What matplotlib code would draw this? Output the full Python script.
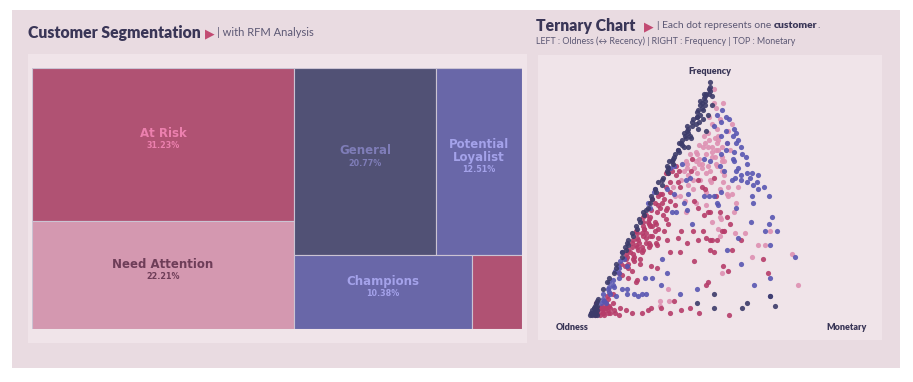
import matplotlib
matplotlib.use("Agg")
import matplotlib.pyplot as plt
from matplotlib.patches import Rectangle

# treemap data
segments = ["At Risk", "Need Attention", "General", "Potential\nLoyalist", "Champions", "Others"]
shares = [31.23, 22.21, 20.77, 12.51, 10.38, 2.90]
seg_colors = ["#B05273", "#D498B0", "#515175", "#6967A8", "#6967A8", "#B05273"]
label_colors = ["#EC80AE", "#6E3D58", "#7F7DB8", "#A4A2EA", "#A4A2EA", None]

# ternary data per segment: frequency % and monetary %, oldness = rest
general_f = [100, 98, 95, 95, 94, 93, 90, 88, 88, 85, 83, 83, 81, 79, 77, 76, 74, 72, 71, 69,
             67, 66, 64, 80, 79, 95, 92, 85, 81, 78, 74, 71, 66, 63, 59, 57, 54, 51, 46, 44,
             41, 38, 35, 32, 29, 31, 27, 22, 18, 16, 14, 11, 7, 3, 1,
             0, 1, 2, 0, 1, 2, 3, 0, 1, 2, 4, 3, 5, 4, 0, 6,
             5, 9, 3, 3, 5, 4, 8,
             97, 96, 94, 92, 91, 90, 89, 87, 86, 84, 82, 80, 78, 77, 75, 73, 70, 68, 65, 62,
             61, 58, 56, 53, 50, 48, 45, 43, 40, 37, 34, 30, 28, 25, 20, 86, 84, 90, 76, 72]
general_m = [0, 1, 0, 2, 4, 1, 1, 1, 3, 2, 1, 4, 2, 1, 3, 2, 1, 3, 1, 1,
             1, 0, 0, 5, 9, 1, 0, 2, 0, 0, 0, 1, 1, 1, 1, 0, 0, 0, 1, 0,
             0, 0, 0, 0, 0, 0, 0, 0, 1, 0, 0, 0, 0, 0, 0,
             0, 1, 0, 1, 2, 1, 1, 2, 0, 2, 0, 0, 0, 1, 3, 0,
             42, 47, 50, 62, 63, 75, 71,
             1, 2, 1, 2, 1, 3, 2, 1, 3, 1, 3, 1, 2, 1, 1, 2, 2, 1, 2, 1,
             2, 1, 2, 1, 1, 1, 1, 1, 1, 1, 1, 1, 1, 1, 1, 6, 5, 6, 4, 5]

loyal_f = [88, 84, 80, 77, 75, 72, 68, 65, 86, 81, 77, 74, 67, 66, 67, 69, 64, 62, 62, 61,
           61, 60, 59, 58, 57, 56, 57, 55, 51, 51, 53, 51, 47, 42, 39, 36, 40, 30, 25, 28,
           13, 16, 8, 63, 64, 65, 59, 58, 53, 54, 54, 52, 52, 51, 51, 48, 45, 44, 44, 48,
           58, 39, 48, 46, 27, 24, 21, 21, 16, 14, 12, 11, 9, 9, 6, 5, 8, 11, 9, 11,
           9, 8, 9, 9, 16, 16, 24, 18, 13, 9, 11,
           12, 10, 7, 13, 15, 5, 18, 19, 20, 23,
           83, 79, 70, 66, 63, 60, 71, 74, 78, 69, 85, 59, 54, 48, 46, 33, 22, 36]
loyal_m = [11, 16, 20, 21, 24, 27, 31, 33, 10, 11, 16, 20, 14, 17, 26, 20, 22, 25, 30, 35,
           37, 40, 31, 34, 37, 40, 41, 45, 42, 49, 28, 26, 30, 55, 55, 60, 47, 60, 73, 43,
           62, 67, 71, 2, 3, 6, 12, 11, 0, 0, 5, 9, 15, 22, 24, 15, 18, 14, 12, 29,
           30, 23, 0, 2, 0, 2, 1, 5, 4, 1, 4, 2, 1, 4, 3, 2, 7, 8, 11, 10,
           14, 16, 17, 19, 15, 18, 18, 23, 23, 33, 39,
           2, 3, 2, 3, 2, 4, 3, 1, 2, 1,
           13, 17, 25, 27, 30, 33, 21, 24, 22, 29, 14, 37, 43, 44, 38, 45, 52, 55]

risk_f = [42, 40, 42, 39, 38, 39, 37, 37, 35, 34, 33, 36, 36, 32, 31, 31, 32, 33, 36, 36,
          36, 31, 32, 32, 32, 52, 48, 46, 51, 46, 50, 55, 49, 46, 44, 44, 55, 58, 62, 61,
          61, 62, 42, 36, 31, 29, 28, 29, 27, 24, 22, 21, 20, 19, 16, 15, 31, 30, 27, 27,
          23, 14, 14, 5, 3, 3, 4, 5, 1, 1, 3, 1, 2, 1, 1, 2, 3, 3, 6, 2,
          3, 1, 1, 0, 0, 54, 43, 44, 32, 33, 28, 27, 28, 32, 39, 36, 24, 18, 21, 19,
          13, 0, 59, 51,
          1, 2, 1, 3, 2, 4, 1, 3, 2, 5, 1, 4, 6, 2, 3, 0, 0, 7, 8, 9,
          40, 38, 35, 33, 30, 28, 26, 25, 34, 29, 24, 22, 67, 60, 57, 55,
          48, 47, 45, 44, 43, 41, 40, 38, 37, 36, 35, 34, 33, 32, 31, 30, 29, 28, 27, 26,
          25, 24, 23, 22, 21, 20, 18, 17, 45, 41, 39, 43, 50, 52, 53, 49, 47, 57, 62, 64]
risk_m = [1, 2, 4, 5, 7, 8, 10, 4, 4, 9, 12, 13, 1, 4, 8, 12, 16, 20, 20, 25,
          29, 25, 29, 34, 37, 4, 6, 9, 3, 6, 1, 10, 19, 22, 28, 32, 19, 16, 11, 1,
          2, 3, 36, 38, 2, 5, 8, 10, 3, 6, 10, 15, 18, 8, 8, 12, 9, 13, 20, 24,
          32, 42, 12, 0, 2, 4, 5, 7, 8, 10, 11, 5, 14, 17, 21, 23, 24, 28, 32, 37,
          40, 45, 33, 12, 2, 21, 26, 27, 35, 32, 36, 38, 45, 47, 39, 37, 60, 65, 45, 48,
          42, 58, 22, 27,
          1, 2, 3, 3, 4, 3, 5, 5, 6, 4, 7, 6, 3, 9, 7, 4, 6, 4, 3, 5,
          4, 3, 6, 3, 4, 2, 5, 3, 8, 7, 9, 5, 9, 6, 5, 4,
          3, 5, 3, 6, 2, 4, 7, 6, 4, 9, 2, 5, 7, 2, 5, 10, 3, 6, 8, 2,
          6, 3, 7, 2, 4, 6, 3, 5, 9, 11, 13, 9, 6, 3, 7, 9, 12, 8, 6, 4]

need_f = [97, 91, 89, 85, 82, 77, 75, 76, 74, 73, 72, 72, 71, 72, 71, 66, 68, 69, 69, 66,
          69, 66, 79, 82, 91, 84, 71, 68, 72, 65, 61, 58, 65, 62, 58, 55, 51, 55, 55, 51,
          63, 63, 65, 64, 62, 66, 61, 58, 54, 52, 54, 48, 51, 44, 42, 35, 40, 65, 57, 57,
          52, 48, 44, 41, 37, 36, 35, 36, 30, 30, 25, 26, 13, 18, 34, 11, 4, 6, 6,
          80, 78, 75, 74, 70, 68, 67, 64, 63, 60, 58, 56, 60, 62, 74, 77, 70, 53, 49, 47]
need_m = [3, 6, 8, 7, 10, 9, 12, 14, 16, 9, 11, 15, 18, 19, 23, 22, 18, 14, 10, 11,
          7, 7, 18, 18, 10, 12, 17, 17, 13, 14, 14, 14, 8, 8, 9, 7, 10, 34, 30, 32,
          9, 12, 13, 21, 24, 23, 18, 21, 27, 31, 16, 20, 12, 18, 33, 43, 31, 20, 22, 27,
          33, 37, 38, 34, 35, 38, 47, 57, 55, 58, 55, 71, 80, 46, 37, 27, 27, 30, 26,
          13, 10, 16, 11, 16, 21, 12, 17, 15, 11, 17, 13, 26, 19, 20, 15, 9, 22, 15, 25]

dot_sets = [
    (need_f, need_m, "#DE90B2"),
    (risk_f, risk_m, "#B63C6A"),
    (loyal_f, loyal_m, "#5856B2"),
    (general_f, general_m, "#3C3B6A"),
]

W, H = 913, 382
fig = plt.figure(figsize=(W / 100, H / 100), dpi=100)
fig.patch.set_facecolor("white")

# background axes in pixel coordinates (card, panels, titles)
bg = fig.add_axes([0, 0, 1, 1])
bg.set_xlim(0, W)
bg.set_ylim(H, 0)
bg.axis("off")
bg.add_patch(Rectangle((12, 10), 888, 358, facecolor="#E9DBE1", edgecolor="none"))
bg.add_patch(Rectangle((28, 54), 499, 289, facecolor="#F0E4E9", edgecolor="none"))

dark = "#3A3657"
sub = "#5C5874"
fam = ["Lato", "DejaVu Sans"]
renderer = fig.canvas.get_renderer()


def inline(x, y, pieces):
    # put text pieces one after another on a line
    for txt, gap, kw in pieces:
        t = bg.text(x, y, txt, va="center", ha="left", family=fam, **kw)
        x += t.get_window_extent(renderer).width + gap


inline(28, 33, [("Customer Segmentation", 4, dict(fontsize=11.3, fontweight="heavy", color=dark)),
                ("\u25B6", 3, dict(fontsize=9, color="#C24A72")),
                ("| with RFM Analysis", 0, dict(fontsize=8, color=sub))])
inline(536, 26, [("Ternary Chart", 9, dict(fontsize=11.3, fontweight="heavy", color=dark)),
                 ("\u25B6", 3, dict(fontsize=9, color="#C24A72")),
                 ("| Each dot represents one ", 0, dict(fontsize=7.4, color=sub)),
                 ("customer", 0, dict(fontsize=7.4, fontweight="heavy", color=dark)),
                 (".", 0, dict(fontsize=7.4, color=sub))])
inline(536, 41, [("LEFT : Oldness (\u2194 Recency) | RIGHT : Frequency | TOP : Monetary", 0,
                  dict(fontsize=6.4, color=sub))])

# treemap
tm = fig.add_axes([32 / W, (H - 329) / H, 490 / W, 261 / H])
tm.set_xlim(0, 100)
tm.set_ylim(0, 100)
tm.axis("off")

left = shares[0] + shares[1]
rest = 100 - left
top_row = shares[2] + shares[3]
bot_row = shares[4] + shares[5]
h_top = top_row / rest * 100
boxes = [
    (0, 100 - shares[0] / left * 100, left, shares[0] / left * 100),
    (0, 0, left, shares[1] / left * 100),
    (left, 100 - h_top, shares[2] / top_row * rest, h_top),
    (left + shares[2] / top_row * rest, 100 - h_top, shares[3] / top_row * rest, h_top),
    (left, 0, shares[4] / bot_row * rest, 100 - h_top),
    (left + shares[4] / bot_row * rest, 0, shares[5] / bot_row * rest, 100 - h_top),
]
for (x0, y0, w, h), name, val, col, lc in zip(boxes, segments, shares, seg_colors, label_colors):
    tm.add_patch(Rectangle((x0, y0), w, h, facecolor=col, edgecolor="#CBC3D3", linewidth=0.8))
    if lc is None:
        continue
    cx, cy = x0 + w / 2, y0 + h / 2
    shift = -5 * name.count("\n")
    tm.annotate(name, (cx, cy), xytext=(0, 3 + shift), textcoords="offset points",
                ha="center", va="bottom", fontsize=8.5, fontweight="bold", color=lc,
                linespacing=1.0)
    tm.annotate(f"{val:.2f}%", (cx, cy), xytext=(0, 2 + shift), textcoords="offset points",
                ha="center", va="top", fontsize=5.8, fontweight="bold", color=lc)

# ternary scatter
tx = fig.add_axes([538 / W, (H - 340) / H, 344 / W, 285 / H])
tx.set_facecolor("#F0E4E9")
tx.set_xlim((538 - 590) / 2.4, (882 - 590) / 2.4)
tx.set_ylim((315 - 340) / 2.33, (315 - 55) / 2.33)
for s in tx.spines.values():
    s.set_visible(False)
tx.set_xticks([])
tx.set_yticks([])
for f, m, col in dot_sets:
    xs = [mi + fi / 2 for fi, mi in zip(f, m)]
    tx.scatter(xs, f, s=14, color=col, alpha=0.9, linewidths=0)

corner = dict(fontsize=6.5, fontweight="heavy", color=dark, ha="center", va="center", family=fam)
tx.text(50, 104.7, "Frequency", **corner)
tx.text(-7.5, -5.2, "Oldness", **corner)
tx.text(107, -5.2, "Monetary", **corner)

fig.savefig("out.png", dpi=100, facecolor=fig.get_facecolor())
